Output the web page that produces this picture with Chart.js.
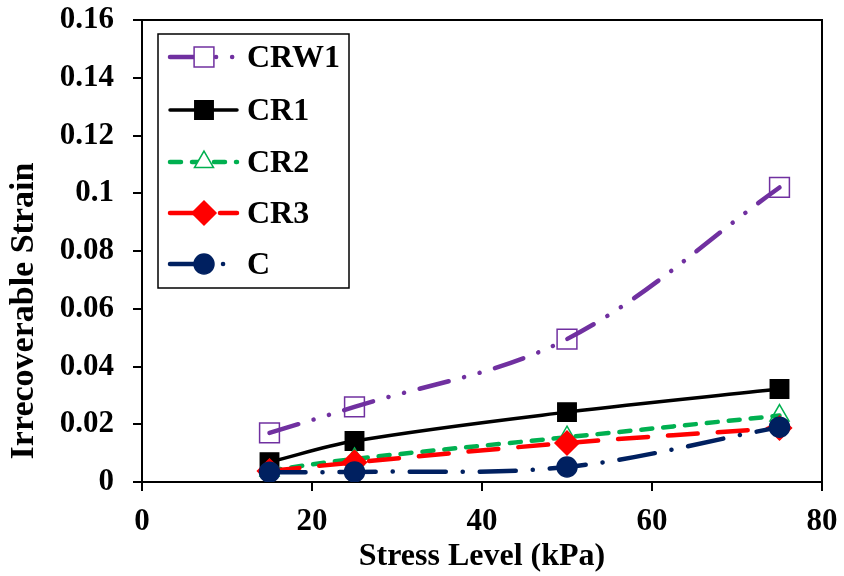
<!DOCTYPE html>
<html>
<head>
<meta charset="utf-8">
<script src="https://cdn.jsdelivr.net/npm/chart.js@4"></script>
<style>
  html, body { margin: 0; padding: 0; background: #fff; }
  #wrap { width: 844px; height: 576px; position: relative; }
</style>
</head>
<body>
<div id="wrap"><canvas id="chart"></canvas></div>
<script>
// stress levels (kPa)
const stress = [15, 25, 50, 75];

// irrecoverable strain per mix
const crw1 = [0.017, 0.026, 0.0495, 0.102];
const cr1 = [0.0069, 0.0142, 0.0242, 0.0322];
const cr2 = [0.004, 0.008, 0.0155, 0.023];
const cr3 = [0.0038, 0.0068, 0.0135, 0.0187];
const cCtrl = [0.0034, 0.0035, 0.0052, 0.019];

const yTicks = [0, 0.02, 0.04, 0.06, 0.08, 0.1, 0.12, 0.14, 0.16];
const xTicks = [0, 20, 40, 60, 80];

const FONT = "'Liberation Serif', 'Times New Roman', serif";
const FS = 31;

const pts = (ys) => stress.map((x, i) => ({ x: x, y: ys[i] }));

function series(label, ys, color, dash, style, radius, fill, order) {
  return {
    label: label,
    data: pts(ys),
    borderColor: color,
    borderWidth: dash.length ? 4.5 : 3.5,
    borderDash: dash,
    borderCapStyle: 'round',
    tension: 0.35,
    pointStyle: style,
    pointRadius: radius,
    pointBorderWidth: 1.5,
    pointBorderColor: color,
    pointBackgroundColor: fill ? color : 'rgba(255,255,255,0)',
    order: order,
  };
}

// legend box drawn inside the plot, like the excel one
const boxLegend = {
  id: 'boxLegend',
  afterDraw(chart) {
    const ctx = chart.ctx;
    const x0 = 158, y0 = 34, w = 191, h = 254;
    ctx.save();
    ctx.fillStyle = '#fff';
    ctx.fillRect(x0, y0, w, h);
    ctx.strokeStyle = '#000';
    ctx.lineWidth = 1.5;
    ctx.strokeRect(x0, y0, w, h);
    const rows = [57, 110, 162, 213, 264];
    chart.data.datasets.forEach((ds, i) => {
      const y = rows[i];
      ctx.save();
      ctx.strokeStyle = ds.borderColor;
      ctx.lineWidth = ds.borderWidth;
      ctx.lineCap = ds.borderCapStyle;
      ctx.setLineDash(ds.borderDash);
      ctx.beginPath();
      ctx.moveTo(170, y);
      ctx.lineTo(237, y);
      ctx.stroke();
      ctx.setLineDash([]);
      ctx.fillStyle = ds.pointBackgroundColor.startsWith('rgba') ? '#fff' : ds.pointBackgroundColor;
      ctx.strokeStyle = ds.pointBorderColor;
      ctx.lineWidth = ds.pointBorderWidth;
      Chart.helpers.drawPoint(ctx, {
        pointStyle: ds.pointStyle, radius: ds.pointRadius, rotation: 0, borderWidth: ds.pointBorderWidth
      }, 204, y);
      ctx.restore();
      ctx.fillStyle = '#000';
      ctx.font = 'bold ' + (FS + 1) + 'px ' + FONT;
      ctx.textBaseline = 'middle';
      ctx.fillText(ds.label, 247, y + 2);
    });
    ctx.restore();
  }
};

// frame around plot area + y title (excel centres it lower than chart.js does)
const frame = {
  id: 'frame',
  beforeDatasetsDraw(chart) {
    const a = chart.chartArea, ctx = chart.ctx;
    ctx.save();
    ctx.strokeStyle = '#000';
    ctx.lineWidth = 2;
    ctx.strokeRect(a.left, a.top, a.right - a.left, a.bottom - a.top);
    ctx.translate(24, 311);
    ctx.rotate(-Math.PI / 2);
    ctx.fillStyle = '#000';
    ctx.font = 'bold 34px ' + FONT;
    ctx.textAlign = 'center';
    ctx.textBaseline = 'middle';
    ctx.fillText('Irrecoverable Strain', 0, 0);
    ctx.restore();
  }
};

new Chart(document.getElementById('chart'), {
  type: 'line',
  data: {
    datasets: [
      series('CRW1', crw1, '#7030A0', [30, 16, 0.1, 16, 0.1, 16], 'rect', 14, false, 5),
      series('CR1', cr1, '#000000', [], 'rect', 13, true, 4),
      series('CR2', cr2, '#00B050', [11, 11], 'triangle', 11, false, 3),
      series('CR3', cr3, '#FF0000', [30, 20], 'rectRot', 12, true, 2),
      series('C', cCtrl, '#002060', [36, 17, 0.1, 17], 'circle', 10, true, 1),
    ]
  },
  options: {
    responsive: true,
    maintainAspectRatio: false,
    animation: false,
    layout: { padding: { top: 20, right: 22, left: 0, bottom: 0 } },
    plugins: { legend: { display: false }, tooltip: { enabled: false } },
    scales: {
      x: {
        type: 'linear',
        min: 0, max: 80,
        afterBuildTicks: (s) => { s.ticks = xTicks.map(v => ({ value: v })); },
        afterFit: (s) => { s.height = 94; s.paddingLeft = 0; s.paddingRight = 0; },
        grid: { drawOnChartArea: false, color: '#000', tickLength: 9, lineWidth: 2 },
        border: { color: '#000', width: 2 },
        ticks: { color: '#000', font: { family: FONT, size: FS, weight: 'bold' }, padding: 12, maxRotation: 0 },
        title: { display: true, text: 'Stress Level (kPa)', color: '#000', font: { family: FONT, size: 32, weight: 'bold' }, padding: { top: 0, bottom: 0 } }
      },
      y: {
        min: 0, max: 0.16,
        afterBuildTicks: (s) => { s.ticks = yTicks.map(v => ({ value: v })); },
        afterFit: (s) => { s.width = 142; s.paddingTop = 0; s.paddingBottom = 0; },
        grid: { drawOnChartArea: false, color: '#000', tickLength: 9, lineWidth: 2 },
        border: { color: '#000', width: 2 },
        ticks: { color: '#000', font: { family: FONT, size: FS, weight: 'bold' }, padding: 19,
          callback: (v) => String(+v.toFixed(2)) },
        title: { display: false }
      }
    }
  },
  plugins: [frame, boxLegend]
});
</script>
</body>
</html>
